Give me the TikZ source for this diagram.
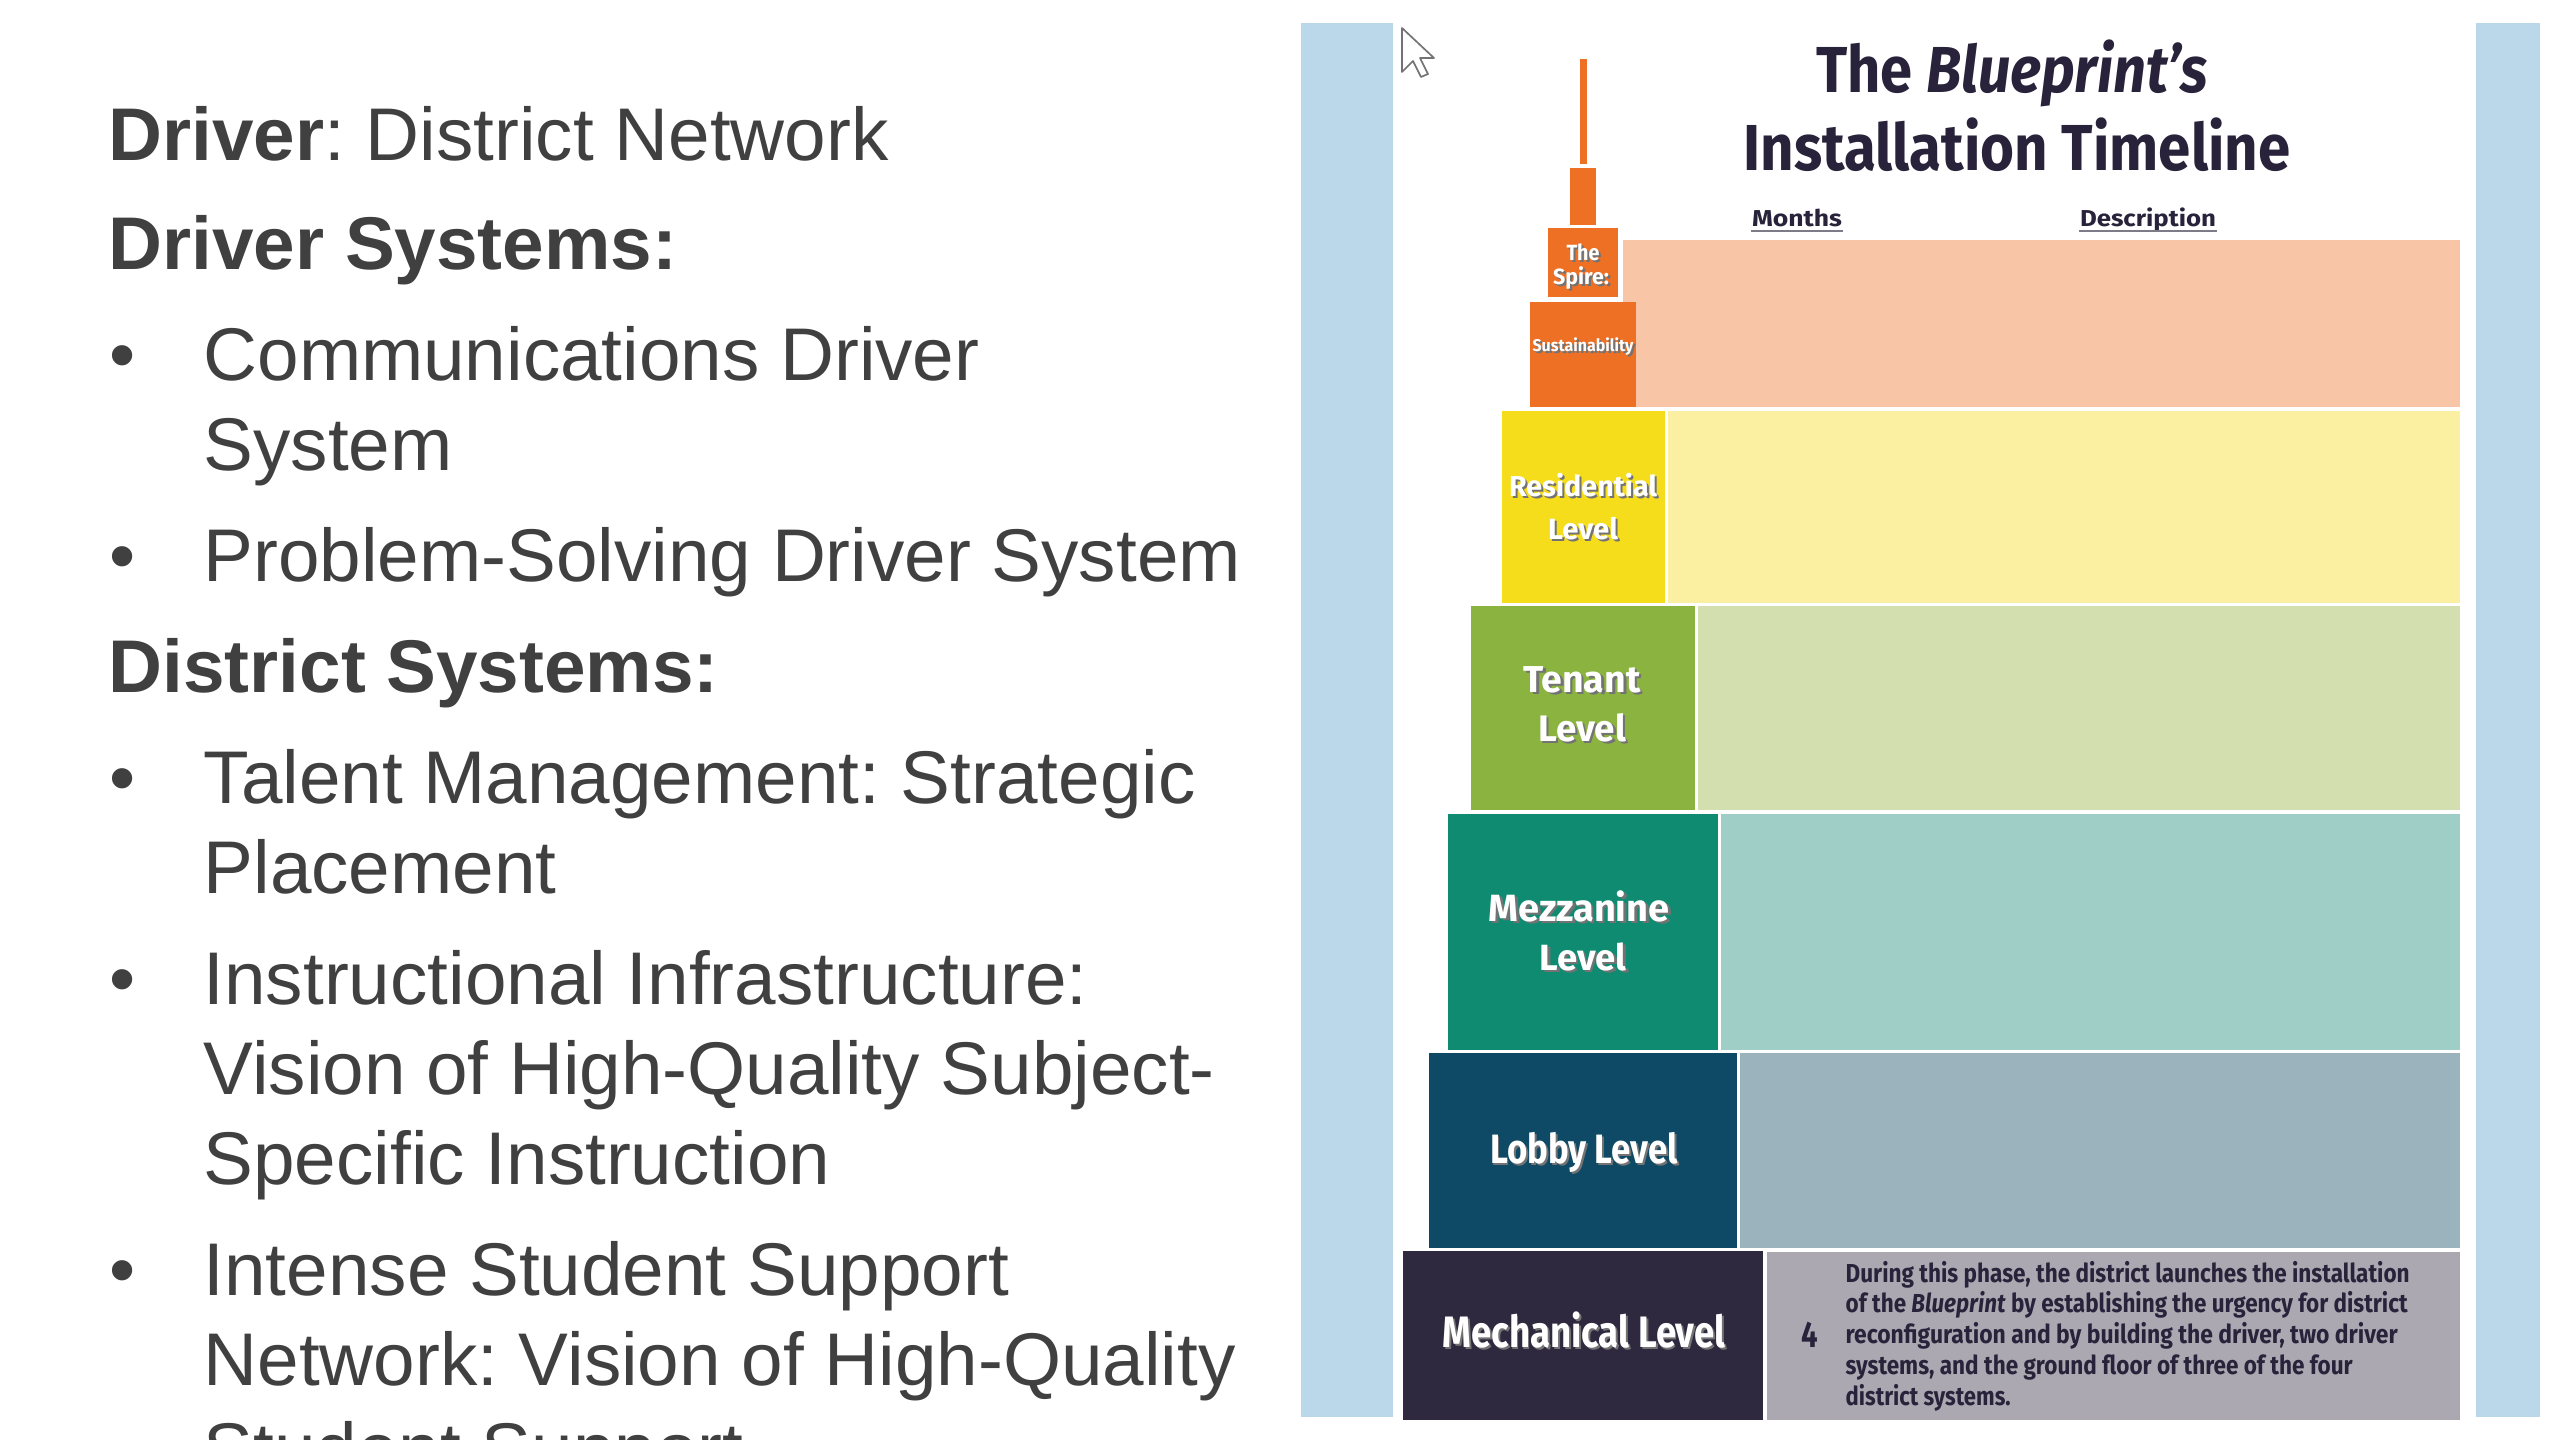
\documentclass[tikz,border=0pt]{standalone}
\usepackage{fontspec}
\usepackage{graphicx}
\newfontfamily\lsans{Liberation Sans}
\newfontfamily\fira{Fira Sans}
\frenchspacing
\definecolor{txtgray}{HTML}{404040}
\definecolor{titledark}{HTML}{28233A}
\definecolor{stripblue}{HTML}{BAD8EA}
\definecolor{orng}{HTML}{EE7024}
\definecolor{lorange}{HTML}{F8C5A7}
\definecolor{yel}{HTML}{F6DD1B}
\definecolor{lyellow}{HTML}{FBF0A2}
\definecolor{grn}{HTML}{8BB33F}
\definecolor{lgreen}{HTML}{D3DFAF}
\definecolor{tea}{HTML}{0F8B72}
\definecolor{lteal}{HTML}{9ECEC6}
\definecolor{nav}{HTML}{0E4A66}
\definecolor{lnavy}{HTML}{9BB3BD}
\definecolor{drk}{HTML}{2E293E}
\definecolor{lgray}{HTML}{ABA8B1}
\newcommand\shd[1]{\makebox[0pt][l]{\kern0.7pt\raisebox{-0.7pt}{\textcolor{black!55}{#1}}}#1}
\tikzset{
  lefttxt/.style={anchor=base west, inner sep=0pt, text=txtgray, font=\lsans\frenchspacing\fontsize{22.4pt}{26pt}\selectfont},
  lbl/.style={anchor=base, inner sep=0pt, text=white},
  descline/.style={anchor=base west, inner sep=0pt, text=titledark, font=\fira\frenchspacing\bfseries\fontsize{7.8pt}{9pt}\selectfont},
  hdr/.style={anchor=base, inner sep=0pt, text=titledark, font=\fira\bfseries\fontsize{6.9pt}{8pt}\selectfont},
  uline/.style={draw=titledark!60, line width=0.6pt}
}
\begin{document}
\begin{tikzpicture}[x=0.3pt, y=-0.3pt]
\useasboundingbox (0,0) rectangle (2560,1440);
\fill[white] (0,0) rectangle (2560,1440);

% ---------- left text ----------
\begin{scope}
\clip (0,0) rectangle (1295,1440);
\node[lefttxt] (l1) at (108,160) {\textbf{Driver}: District Network};
\node[lefttxt] (l2) at (108,269) {\textbf{Driver Systems:}};
\node[lefttxt] (b1) at (109,380) {•};
\node[lefttxt] (l3) at (203,380) {Communications Driver};
\node[lefttxt] (l4) at (203,470) {System};
\node[lefttxt] (b2) at (109,581) {•};
\node[lefttxt] (l5) at (203,581) {Problem-Solving Driver System};
\node[lefttxt] (l6) at (108,692) {\textbf{District Systems:}};
\node[lefttxt] (b3) at (109,803) {•};
\node[lefttxt] (l7) at (203,803) {Talent Management: Strategic};
\node[lefttxt] (l8) at (203,893) {Placement};
\node[lefttxt] (b4) at (109,1004) {•};
\node[lefttxt] (l9) at (203,1004) {Instructional Infrastructure:};
\node[lefttxt] (l10) at (203,1094) {Vision of High-Quality Subject-};
\node[lefttxt] (l11) at (203,1184) {Specific Instruction};
\node[lefttxt] (b5) at (109,1295) {•};
\node[lefttxt] (l12) at (203,1295) {Intense Student Support};
\node[lefttxt] (l13) at (203,1385) {Network: Vision of High-Quality};
\node[lefttxt] (l14) at (203,1475) {Student Support};
\end{scope}

% ---------- right panel ----------
\fill[stripblue] (1301,23) rectangle (1393,1417);
\fill[stripblue] (2476,23) rectangle (2540,1417);

% cursor
\draw[fill=white, draw=black!55, line width=0.5pt, line join=round]
  (1402,28) -- (1402,72) -- (1413,61) -- (1421,77) -- (1428,74) -- (1420,58) -- (1434,58) -- cycle;

% title
\node[anchor=base, inner sep=0pt, text=titledark, font=\fira\bfseries\fontsize{19.5pt}{22pt}\selectfont] (t1) at (2012,93)
  {\resizebox{117.6pt}{\height}{The \textit{Blueprint’s}}};
\node[anchor=base, inner sep=0pt, text=titledark, font=\fira\bfseries\fontsize{19.5pt}{22pt}\selectfont] (t2) at (2017,170)
  {\resizebox{164.1pt}{\height}{Installation Timeline}};
\node[hdr] (months) at (1797,226) {\resizebox{27pt}{\height}{Months}};
\node[hdr] (descr) at (2148,226) {\resizebox{40.8pt}{\height}{Description}};
\draw[uline] ([yshift=-1.4pt]months.base west) -- ([yshift=-1.4pt]months.base east);
\draw[uline] ([yshift=-1.4pt]descr.base west) -- ([yshift=-1.4pt]descr.base east);

% light rows
\fill[lorange] (1623,240) rectangle (2460,407);
\fill[lyellow] (1668,411) rectangle (2460,603);
\fill[lgreen] (1698,606) rectangle (2460,810);
\fill[lteal] (1721,814) rectangle (2460,1050);
\fill[lnavy] (1740,1053) rectangle (2460,1248);
\fill[lgray] (1767,1252) rectangle (2460,1420);

% tower
\fill[orng] (1580,59) rectangle (1587,164);
\fill[orng] (1570,168) rectangle (1596,225);
\fill[orng] (1548,228) rectangle (1618,297);
\fill[orng] (1530,302) rectangle (1636,407);
\fill[yel] (1502,411) rectangle (1665,603);
\fill[grn] (1471,606) rectangle (1695,810);
\fill[tea] (1448,814) rectangle (1718,1050);
\fill[nav] (1429,1053) rectangle (1737,1248);
\fill[drk] (1403,1251) rectangle (1763,1420);

% tower labels
\node[lbl, font=\fira\bfseries\fontsize{6.6pt}{7pt}\selectfont] (sp1) at (1583,260) {\resizebox{9.9pt}{\height}{\shd{The}}};
\node[lbl, font=\fira\bfseries\fontsize{6.6pt}{7pt}\selectfont] (sp2) at (1581,284) {\resizebox{16.8pt}{\height}{\shd{Spire:}}};
\node[lbl, font=\fira\bfseries\fontsize{5.1pt}{6pt}\selectfont] (sus) at (1583,351) {\resizebox{30.3pt}{\height}{\shd{Sustainability}}};
\node[lbl, font=\fira\bfseries] (res1) at (1583,496) {\resizebox{44.4pt}{!}{\shd{Residential}}};
\node[lbl, font=\fira\bfseries] (res2) at (1583,539) {\resizebox{21pt}{!}{\shd{Level}}};
\node[lbl, font=\fira\bfseries] (ten1) at (1582,692) {\resizebox{35.1pt}{!}{\shd{Tenant}}};
\node[lbl, font=\fira\bfseries] (ten2) at (1582,741) {\resizebox{26.4pt}{!}{\shd{Level}}};
\node[lbl, font=\fira\bfseries] (mez1) at (1579,921) {\resizebox{54.3pt}{!}{\shd{Mezzanine}}};
\node[lbl, font=\fira\bfseries] (mez2) at (1583,970) {\resizebox{26.1pt}{!}{\shd{Level}}};
\node[lbl, font=\fira\bfseries\fontsize{12.3pt}{14pt}\selectfont] (lob) at (1584,1163) {\resizebox{56.4pt}{\height}{\shd{Lobby Level}}};
\node[lbl, font=\fira\bfseries\fontsize{13.2pt}{15pt}\selectfont] (mech) at (1584,1347) {\resizebox{84.9pt}{\height}{\shd{Mechanical Level}}};

% description
\node[anchor=base, inner sep=0pt, text=titledark, font=\fira\bfseries\fontsize{11pt}{12pt}\selectfont] (four) at (1810,1347) {\scalebox{0.8}[1]{4}};
\node[descline] (d1) at (1845,1282) {\resizebox{169.2pt}{\height}{During this phase, the district launches the installation}};
\node[descline] (d2) at (1845,1312) {\resizebox{168.6pt}{\height}{of the \textit{Blueprint} by establishing the urgency for district}};
\node[descline] (d3) at (1845,1343) {\resizebox{165.6pt}{\height}{reconfiguration and by building the driver, two driver}};
\node[descline] (d4) at (1845,1374) {\resizebox{152.1pt}{\height}{systems, and the ground floor of three of the four}};
\node[descline] (d5) at (1845,1405) {\resizebox{49.5pt}{\height}{district systems.}};
\end{tikzpicture}
\end{document}
